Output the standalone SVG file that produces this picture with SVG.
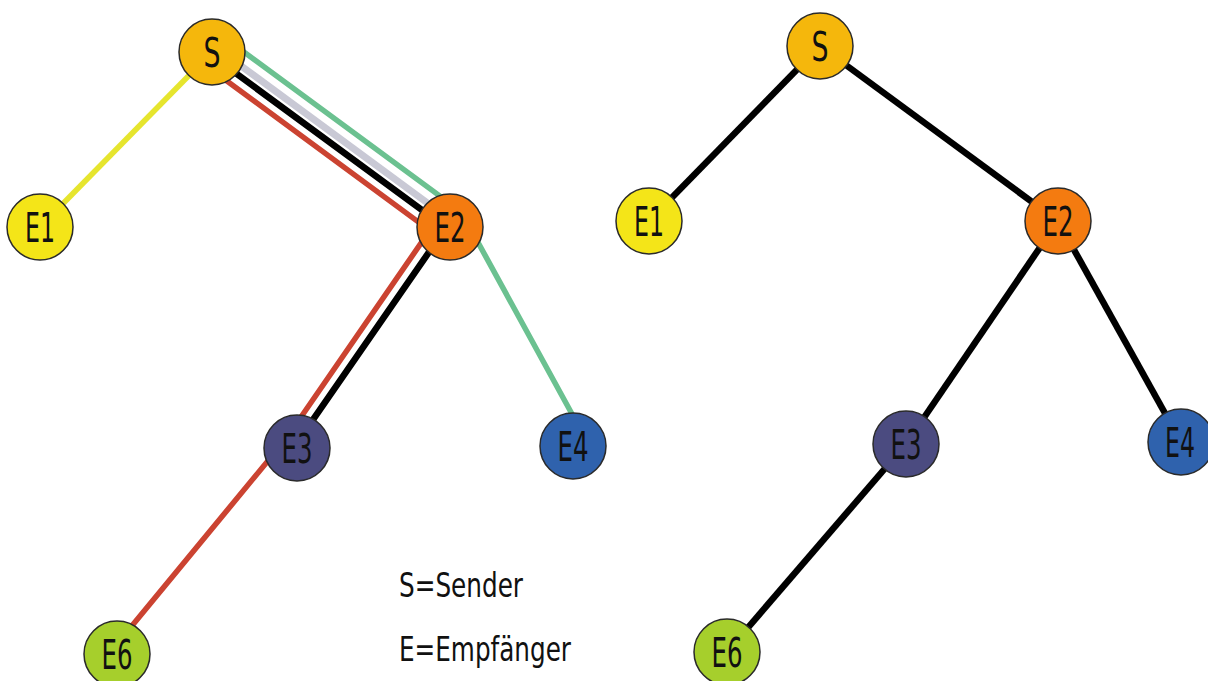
<svg xmlns="http://www.w3.org/2000/svg" width="1208" height="681" viewBox="0 0 1208 681">
<style>
.bg{fill:#ffffff}
.n{stroke:#2a2a2a;stroke-width:1.5}
.lbl{font-family:"DejaVu Sans Condensed","DejaVu Sans",sans-serif;font-size:41px;fill:#111;text-anchor:middle}
.leg{font-family:"DejaVu Sans Condensed","DejaVu Sans",sans-serif;font-size:34px;fill:#111}
.c{fill:none;stroke-linejoin:round;stroke-linecap:butt}
.blk{stroke:#000;stroke-width:6.5}
.red{stroke:#cb4331;stroke-width:5.5}
.grn{stroke:#6bc190;stroke-width:5.5}
.gry{stroke:#c9c9d5;stroke-width:7}
.yel{stroke:#e6e52e;stroke-width:5.5}
</style>
<rect class="bg" x="0" y="0" width="1208" height="681"/>
<g id="connectors">
  <line class="c yel" x1="212" y1="52" x2="40" y2="227"/>
  <path class="c grn" d="M223.2,36.7 L445.1,199.9 Q461.2,211.7 470.8,229.2 L572,414"/>
  <line class="c gry" x1="215.6" y1="47.2" x2="453.6" y2="222.2"/>
  <path class="c blk" d="M210.2,54.4 L445.9,227.7 L294.5,446.3"/>
  <path class="c red" d="M203.4,63.7 L429.8,230.4 L285.5,439.5 L112,650"/>
  <line class="c blk" x1="820" y1="46" x2="649" y2="221"/>
  <line class="c blk" x1="820" y1="46" x2="1058" y2="221"/>
  <line class="c blk" x1="1058" y1="221" x2="906" y2="444"/>
  <line class="c blk" x1="1058" y1="221" x2="1181" y2="442"/>
  <line class="c blk" x1="906" y1="444" x2="727" y2="652"/>
</g>
<g id="L_S"><circle class="n" cx="212" cy="52" r="33" fill="#f5b70c"/><text class="lbl" x="212" y="67" textLength="17" lengthAdjust="spacingAndGlyphs">S</text></g>
<g id="L_E1"><circle class="n" cx="40" cy="227" r="33" fill="#f4e518"/><text class="lbl" x="40" y="242" textLength="30" lengthAdjust="spacingAndGlyphs">E1</text></g>
<g id="L_E2"><circle class="n" cx="450" cy="227" r="33" fill="#f47b10"/><text class="lbl" x="450" y="242" textLength="31" lengthAdjust="spacingAndGlyphs">E2</text></g>
<g id="L_E3"><circle class="n" cx="297" cy="448" r="33" fill="#4b4b80"/><text class="lbl" x="297" y="463" textLength="31" lengthAdjust="spacingAndGlyphs">E3</text></g>
<g id="L_E4"><circle class="n" cx="573" cy="446" r="33" fill="#2f62ad"/><text class="lbl" x="573" y="461" textLength="31" lengthAdjust="spacingAndGlyphs">E4</text></g>
<g id="L_E6"><circle class="n" cx="117" cy="654" r="33" fill="#a6cf2c"/><text class="lbl" x="117" y="669" textLength="31" lengthAdjust="spacingAndGlyphs">E6</text></g>
<g id="R_S"><circle class="n" cx="820" cy="46" r="33" fill="#f5b70c"/><text class="lbl" x="820" y="61" textLength="17" lengthAdjust="spacingAndGlyphs">S</text></g>
<g id="R_E1"><circle class="n" cx="649" cy="221" r="33" fill="#f4e518"/><text class="lbl" x="649" y="236" textLength="30" lengthAdjust="spacingAndGlyphs">E1</text></g>
<g id="R_E2"><circle class="n" cx="1058" cy="221" r="33" fill="#f47b10"/><text class="lbl" x="1058" y="236" textLength="31" lengthAdjust="spacingAndGlyphs">E2</text></g>
<g id="R_E3"><circle class="n" cx="906" cy="444" r="33" fill="#4b4b80"/><text class="lbl" x="906" y="459" textLength="31" lengthAdjust="spacingAndGlyphs">E3</text></g>
<g id="R_E4"><circle class="n" cx="1181" cy="442" r="33" fill="#2f62ad"/><text class="lbl" x="1180" y="457" textLength="30" lengthAdjust="spacingAndGlyphs">E4</text></g>
<g id="R_E6"><circle class="n" cx="727" cy="652" r="33" fill="#a6cf2c"/><text class="lbl" x="727" y="667" textLength="31" lengthAdjust="spacingAndGlyphs">E6</text></g>
<g id="legend">
  <text class="leg" x="399" y="597" textLength="124" lengthAdjust="spacingAndGlyphs">S=Sender</text>
  <text class="leg" x="399" y="661" textLength="172" lengthAdjust="spacingAndGlyphs">E=Empfänger</text>
</g>
</svg>
